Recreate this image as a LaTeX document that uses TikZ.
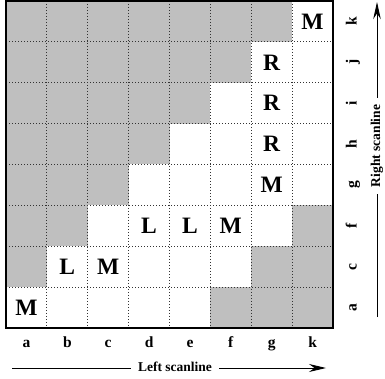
\documentclass[tikz,border=0pt]{standalone}
\usepackage{fontspec}
\setmainfont{Liberation Serif}
\usetikzlibrary{arrows.meta}
\begin{document}
\begin{tikzpicture}[x=1pt,y=-1pt,
  graycell/.style={fill=black!25,draw=none},
  gridline/.style={black!80,line width=0.8pt,dash pattern=on 0.8pt off 2.2pt},
  border/.style={black,line width=1.4pt},
  cellletter/.style={font=\fontsize{23.5}{23.5}\selectfont\bfseries,inner sep=0pt},
  axislabel/.style={font=\fontsize{15.5}{15.5}\selectfont\bfseries,inner sep=0pt},
  scantext/.style={font=\fontsize{13.5}{13.5}\selectfont\bfseries,inner xsep=7pt,inner ysep=0pt},
  scanline/.style={black,line width=0.9pt}]
\useasboundingbox (0,0) rectangle (385,379);
\def\X{6}\def\Y{1}\def\C{40.875}
% gray cells upper-left
\foreach \r in {0,...,6}{
  \pgfmathtruncatemacro\last{6-\r}
  \foreach \c in {0,...,\last}{
    \fill[graycell] ({\X+\c*\C},{\Y+\r*\C}) rectangle ({\X+(\c+1)*\C},{\Y+(\r+1)*\C});
  }
}
% gray cells lower-right
\foreach \r/\c in {5/7,6/6,6/7,7/5,7/6,7/7}{
  \fill[graycell] ({\X+\c*\C},{\Y+\r*\C}) rectangle ({\X+(\c+1)*\C},{\Y+(\r+1)*\C});
}
% dotted grid
\foreach \i in {1,...,7}{
  \draw[gridline] ({\X+\i*\C},\Y) -- ({\X+\i*\C},{\Y+8*\C});
  \draw[gridline] (\X,{\Y+\i*\C}) -- ({\X+8*\C},{\Y+\i*\C});
}
\draw[border] (\X,\Y) rectangle ({\X+8*\C},{\Y+8*\C});
% cell letters
\foreach \r/\c/\t/\n in {0/7/M/m1,1/6/R/r1,2/6/R/r2,3/6/R/r3,4/6/M/m2,5/3/L/l1,5/4/L/l2,5/5/M/m3,6/1/L/l3,6/2/M/m4,7/0/M/m5}{
  \node[cellletter] (\n) at ({\X+(\c+0.5)*\C},{\Y+(\r+0.5)*\C}) {\t};
}
% bottom labels
\foreach \c/\t in {0/a,1/b,2/c,3/d,4/e,5/f,6/g,7/k}{
  \node[axislabel,anchor=base] (b\t) at ({\X+(\c+0.5)*\C},347.5) {\t};
}
% right labels
\foreach \r/\t in {0/k,1/j,2/i,3/h,4/g,5/f,6/c,7/a}{
  \node[axislabel,anchor=base,rotate=90] (r\t) at (356.5,{\Y+(\r+0.5)*\C}) {\t};
}
% left scanline
\node[scantext] (lefttext) at (175,367) {Left scanline};
\coordinate (lstart) at (12,368);
\coordinate (lend) at (326,368);
\draw[scanline] (lstart) -- (lstart -| lefttext.west);
\draw[scanline,-{Stealth[length=17pt,width=8pt]}] (lefttext.east |- lend) -- (lend);
% right scanline
\node[scantext,rotate=90] (righttext) at (377,146) {Right scanline};
\coordinate (rstart) at (377,317);
\coordinate (rend) at (377,2);
\draw[scanline] (rstart) -- (rstart |- righttext.west);
\draw[scanline,-{Stealth[length=17pt,width=7.5pt]}] (rend |- righttext.east) -- (rend);
\end{tikzpicture}
\end{document}
